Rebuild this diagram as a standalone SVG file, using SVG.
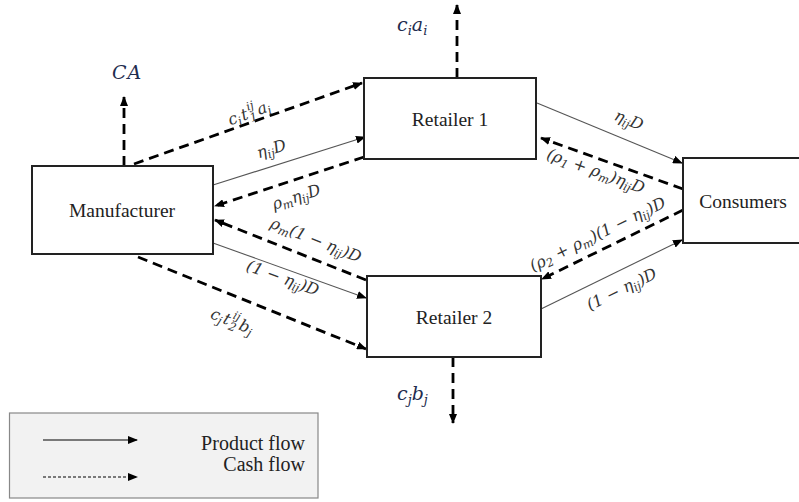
<svg xmlns="http://www.w3.org/2000/svg" width="799" height="502" viewBox="0 0 799 502">
<style>
.box{fill:#fff;stroke:#222;stroke-width:2}
.nt{font-family:"Liberation Serif","Times New Roman",serif;font-size:19.5px;fill:#222;text-anchor:middle}
.d{fill:none;stroke:#000;stroke-width:2.8;stroke-dasharray:10 6}
.s{fill:none;stroke:#555;stroke-width:1.1}
.m{font-family:"DejaVu Serif",serif;font-style:italic;font-size:16px;fill:#333;text-anchor:middle}
.mb{font-family:"DejaVu Serif",serif;font-style:italic;font-size:19px;fill:#1f2d4f}
.sb{font-size:11.5px}
.sb2{font-size:13px}
.lg{font-family:"Liberation Serif","Times New Roman",serif;font-size:20px;fill:#222;text-anchor:end}
</style>
<defs>
<marker id="ah" viewBox="0 0 10 8" refX="9" refY="4" markerWidth="10" markerHeight="8" markerUnits="userSpaceOnUse" orient="auto">
<path d="M0,0 L10,4 L0,8 z" fill="#000"/>
</marker>
</defs>
<rect width="799" height="502" fill="#fff"/>

<g id="connectors">
<line class="d" x1="124" y1="166" x2="124" y2="97" marker-end="url(#ah)"/>
<line class="d" x1="134" y1="164" x2="362" y2="83" marker-end="url(#ah)"/>
<line class="d" x1="364" y1="157" x2="215" y2="206" marker-end="url(#ah)"/>
<line class="d" x1="366" y1="280" x2="215" y2="220" marker-end="url(#ah)"/>
<line class="d" x1="138" y1="257" x2="366" y2="349" marker-end="url(#ah)"/>
<line class="d" x1="683" y1="189" x2="541" y2="138" marker-end="url(#ah)"/>
<line class="d" x1="683" y1="210" x2="542" y2="279" marker-end="url(#ah)"/>
<line class="d" x1="457" y1="78" x2="457" y2="5" marker-end="url(#ah)"/>
<line class="d" x1="453" y1="357" x2="453" y2="423" marker-end="url(#ah)"/>
<line class="s" x1="213" y1="185" x2="365" y2="137" marker-end="url(#ah)"/>
<line class="s" x1="213" y1="243" x2="366" y2="298" marker-end="url(#ah)"/>
<line class="s" x1="537" y1="103" x2="682" y2="163" marker-end="url(#ah)"/>
<line class="s" x1="541" y1="309" x2="682" y2="240" marker-end="url(#ah)"/>
</g>

<g id="manufacturer">
<rect class="box" x="32" y="166" width="181" height="88"/>
<text class="nt" x="122" y="217">Manufacturer</text>
</g>
<g id="retailer1">
<rect class="box" x="364" y="78" width="172" height="81"/>
<text class="nt" x="450" y="126">Retailer 1</text>
</g>
<g id="retailer2">
<rect class="box" x="367" y="276" width="174" height="81"/>
<text class="nt" x="454" y="324">Retailer 2</text>
</g>
<g id="consumers">
<rect class="box" x="683" y="158" width="130" height="85"/>
<text class="nt" x="743" y="208">Consumers</text>
</g>

<g id="labels">
<text class="mb" x="112" y="79" letter-spacing="1">CA</text>
<text class="mb" x="397" y="31">c<tspan class="sb2" dy="4">i</tspan><tspan dy="-4">a</tspan><tspan class="sb2" dy="4">i</tspan></text>
<text class="mb" x="397" y="400">c<tspan class="sb2" dy="4">j</tspan><tspan dy="-4">b</tspan><tspan class="sb2" dy="4">j</tspan></text>

<text class="m" transform="translate(251,118) rotate(-20)">c<tspan class="sb" dy="3">i</tspan><tspan dx="1" dy="-3">t</tspan><tspan class="sb" dx="1" dy="4">1</tspan><tspan class="sb" dx="-7" dy="-12">ij</tspan><tspan dx="2" dy="8">a</tspan><tspan class="sb" dy="3">i</tspan></text>
<text class="m" transform="translate(273,154) rotate(-17.6)">η<tspan class="sb" dy="3">ij</tspan><tspan dy="-3">D</tspan></text>
<text class="m" transform="translate(298,202) rotate(-18)">ρ<tspan class="sb" dy="3">m</tspan><tspan dy="-3">η</tspan><tspan class="sb" dy="3">ij</tspan><tspan dy="-3">D</tspan></text>
<text class="m" transform="translate(314,245) rotate(21.5)">ρ<tspan class="sb" dy="3">m</tspan><tspan dy="-3">(1 − η</tspan><tspan class="sb" dy="3">ij</tspan><tspan dy="-3">)D</tspan></text>
<text class="m" transform="translate(281,283) rotate(20)">(1 − η<tspan class="sb" dy="3">ij</tspan><tspan dy="-3">)D</tspan></text>
<text class="m" transform="translate(230,326) rotate(22)">c<tspan class="sb" dy="3">j</tspan><tspan dx="1" dy="-3">t</tspan><tspan class="sb" dx="1" dy="4">2</tspan><tspan class="sb" dx="-7" dy="-12">ij</tspan><tspan dx="2" dy="8">b</tspan><tspan class="sb" dy="3">j</tspan></text>
<text class="m" transform="translate(627,125) rotate(22)">η<tspan class="sb" dy="3">ij</tspan><tspan dy="-3">D</tspan></text>
<text class="m" transform="translate(594,176) rotate(20)">(ρ<tspan class="sb" dy="3">1</tspan><tspan dy="-3"> + ρ</tspan><tspan class="sb" dy="3">m</tspan><tspan dy="-3">)η</tspan><tspan class="sb" dy="3">ij</tspan><tspan dy="-3">D</tspan></text>
<text class="m" transform="translate(600,239) rotate(-26)">(ρ<tspan class="sb" dy="3">2</tspan><tspan dy="-3"> + ρ</tspan><tspan class="sb" dy="3">m</tspan><tspan dy="-3">)(1 − η</tspan><tspan class="sb" dy="3">ij</tspan><tspan dy="-3">)D</tspan></text>
<text class="m" transform="translate(624,294) rotate(-26)">(1 − η<tspan class="sb" dy="3">ij</tspan><tspan dy="-3">)D</tspan></text>
</g>

<g id="legend">
<rect x="9.5" y="413" width="308.5" height="85" fill="#f2f2f2" stroke="#888" stroke-width="1.2"/>
<line x1="43" y1="440" x2="137" y2="440" stroke="#000" stroke-width="1.2" marker-end="url(#ah)"/>
<line x1="43" y1="477" x2="137" y2="477" stroke="#000" stroke-width="1" stroke-dasharray="3 2" marker-end="url(#ah)"/>
<text class="lg" x="305" y="450">Product flow</text>
<text class="lg" x="305" y="471">Cash flow</text>
</g>
</svg>
